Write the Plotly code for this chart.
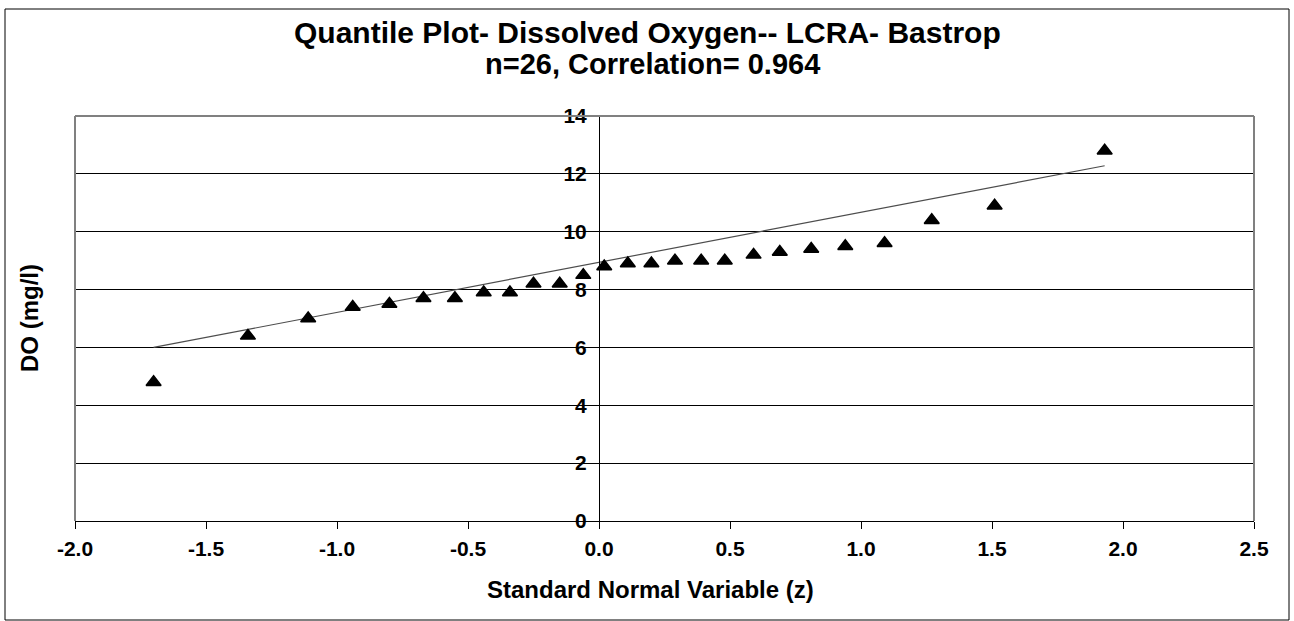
import plotly.graph_objects as go

# data
z_values = [-1.70, -1.34, -1.11, -0.94, -0.80, -0.67, -0.55, -0.44, -0.34, -0.25,
            -0.15, -0.06, 0.02, 0.11, 0.20, 0.29, 0.39, 0.48, 0.59, 0.69,
            0.81, 0.94, 1.09, 1.27, 1.51, 1.93]
do_values = [4.8, 6.4, 7.0, 7.4, 7.5, 7.7, 7.7, 7.9, 7.9, 8.2,
             8.2, 8.5, 8.8, 8.9, 8.9, 9.0, 9.0, 9.0, 9.2, 9.3,
             9.4, 9.5, 9.6, 10.4, 10.9, 12.8]
fit_z = [-1.70, 1.93]
fit_do = [6.0, 12.28]

x_ticks = [-2.0, -1.5, -1.0, -0.5, 0.0, 0.5, 1.0, 1.5, 2.0, 2.5]
y_ticks = [0, 2, 4, 6, 8, 10, 12, 14]

TITLE_1 = "Quantile Plot- Dissolved Oxygen-- LCRA- Bastrop"
TITLE_2 = "n=26, Correlation= 0.964"
X_TITLE = "Standard Normal Variable (z)"
Y_TITLE = "DO (mg/l)"

# page and plot area in pixels
W, H = 1294, 621
L, R, T, B = 75, 40, 116, 100
FONT = "Liberation Sans, Arial, sans-serif"


def px_x(px):
    return (px - L) / (W - L - R)


def px_y(py):
    return (H - B - py) / (H - T - B)


def main():
    fig = go.Figure()

    # fitted line
    fig.add_trace(go.Scatter(x=fit_z, y=fit_do, mode="lines",
                             line=dict(color="#4d4d4d", width=1.2),
                             hoverinfo="skip", showlegend=False))
    # quantile points
    fig.add_trace(go.Scatter(x=z_values, y=do_values, mode="markers",
                             marker=dict(symbol="triangle-up", size=13, color="black",
                                         line=dict(color="black", width=1.5)),
                             showlegend=False))

    x0_frac = (0 - x_ticks[0]) / (x_ticks[-1] - x_ticks[0])

    fig.update_layout(
        width=W, height=H,
        margin=dict(l=L, r=R, t=T, b=B, pad=0),
        paper_bgcolor="white", plot_bgcolor="white",
        font=dict(family=FONT, color="black"),
        showlegend=False,
        xaxis=dict(range=[x_ticks[0], x_ticks[-1]], tickvals=x_ticks,
                   ticktext=[f"{v:.1f}" for v in x_ticks],
                   showgrid=False, zeroline=False, showline=True, linecolor="black",
                   linewidth=1, ticks="outside", ticklen=7, tickcolor="black",
                   tickfont=dict(size=21, weight="bold"), ticklabelstandoff=2),
        yaxis=dict(range=[y_ticks[0], y_ticks[-1]], tickvals=y_ticks,
                   anchor="free", position=x0_frac,
                   showgrid=True, gridcolor="black", gridwidth=1,
                   zeroline=False, showline=True, linecolor="black", linewidth=1,
                   ticks="outside", ticklen=6, tickcolor="black",
                   tickfont=dict(size=21, weight="bold"), ticklabelstandoff=2),
    )

    # grey frame round the plot area (bottom is the x axis)
    frame = [(0, 1, 1, 1), (0, 0, 0, 1), (1, 0, 1, 1)]
    for xa, ya, xb, yb in frame:
        fig.add_shape(type="line", xref="x domain", yref="y domain",
                      x0=xa, y0=ya, x1=xb, y1=yb,
                      line=dict(color="#808080", width=2))

    # outer chart border
    fig.add_shape(type="rect", xref="paper", yref="paper",
                  x0=px_x(5), x1=px_x(1289), y0=px_y(620), y1=px_y(9),
                  line=dict(color="black", width=1))

    # titles
    fig.add_annotation(text=TITLE_1, xref="paper", yref="paper", x=px_x(647), y=px_y(33),
                       xanchor="center", yanchor="middle", showarrow=False,
                       font=dict(size=30, weight="bold"))
    fig.add_annotation(text=TITLE_2, xref="paper", yref="paper", x=px_x(652), y=px_y(64),
                       xanchor="center", yanchor="middle", showarrow=False,
                       font=dict(size=29, weight="bold"))
    fig.add_annotation(text=X_TITLE, xref="paper", yref="paper", x=px_x(650), y=px_y(589),
                       xanchor="center", yanchor="middle", showarrow=False,
                       font=dict(size=24, weight="bold"))
    fig.add_annotation(text=Y_TITLE, xref="paper", yref="paper", x=px_x(29), y=px_y(318),
                       xanchor="center", yanchor="middle", showarrow=False, textangle=-90,
                       font=dict(size=24, weight="bold"))

    # drop the default body margin so the chart sits at the page corner
    fig.write_html("out.html", config={"displayModeBar": False},
                   post_script="document.body.style.margin='0';")


if __name__ == "__main__":
    main()
